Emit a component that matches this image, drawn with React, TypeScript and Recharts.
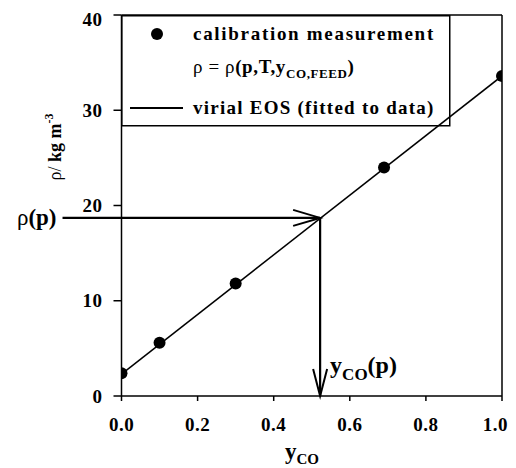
import { ComposedChart, Line, Scatter, XAxis, YAxis, ReferenceLine } from "recharts"

const yCo = [0, 0.1, 0.3, 0.69, 1.0]
const rho = [2.4, 5.6, 11.8, 24.0, 33.6]
const fitYCo = [0, 1]
const fitRho = [2.3, 33.6]
const xTicks = [0, 0.2, 0.4, 0.6, 0.8, 1.0]
const yTicks = [0, 10, 20, 30, 40]
// operating point
const pointYCo = 0.522
const pointRho = 18.7
const arrowStartYCo = -0.155

const measured = yCo.map((x, i) => ({ x, rho: rho[i] }))
const fitted = fitYCo.map((x, i) => ({ x, rho: fitRho[i] }))

const FONT = "Liberation Serif, DejaVu Serif, serif"

const Dot = (props: any) => <circle cx={props.cx} cy={props.cy} r={6} fill="#000" />

const HArrow = (props: any) => {
  const { x1, y1, x2, y2 } = props
  return (
    <g>
      <line x1={x1} y1={y1} x2={x2} y2={y2} stroke="#000" strokeWidth={2.2} />
      <polyline points={`${x2 - 27},${y2 - 8} ${x2},${y2} ${x2 - 27},${y2 + 8}`} fill="none" stroke="#000" strokeWidth={2} />
      <text x={x1 - 6} y={y1} dy="0.33em" textAnchor="end" fontFamily={FONT} fontSize={23} fill="#000">
        ρ<tspan fontWeight="bold">(p)</tspan>
      </text>
    </g>
  )
}

const VArrow = (props: any) => {
  const { x1, y1, x2, y2 } = props
  const bottom = Math.max(y1, y2)
  return (
    <g>
      <line x1={x1} y1={y1} x2={x2} y2={y2} stroke="#000" strokeWidth={2.2} />
      <polyline points={`${x1 - 7},${bottom - 27} ${x1},${bottom} ${x1 + 7},${bottom - 27}`} fill="none" stroke="#000" strokeWidth={2} />
      <text x={x1 + 10} y={bottom - 23} fontFamily={FONT} fontSize={24} fontWeight="bold" fill="#000">
        y<tspan fontSize={17} dy={7}>CO</tspan><tspan dy={-7}>(p)</tspan>
      </text>
    </g>
  )
}

function LegendBox() {
  return (
    <svg width={330} height={112} style={{ position: "absolute", left: 113, top: 7 }}>
      <rect x={0.75} y={0.75} width={328} height={110} fill="none" stroke="#000" strokeWidth={1.5} />
      <g fontFamily={FONT} fontSize={19} fill="#000">
        <circle cx={36} cy={19} r={6} fill="#000" />
        <text x={72} y={19} dy="0.33em" fontWeight="bold" letterSpacing={1.7}>calibration measurement</text>
        <text x={72} y={52} dy="0.33em" letterSpacing={0.6}>
          ρ = ρ<tspan fontWeight="bold">(p,T,y</tspan>
          <tspan fontWeight="bold" fontSize={13} dy={5}>CO,FEED</tspan>
          <tspan fontWeight="bold" dy={-5}>)</tspan>
        </text>
        <line x1={9} y1={93} x2={62} y2={93} stroke="#000" strokeWidth={2} />
        <text x={72} y={93} dy="0.33em" fontWeight="bold" letterSpacing={1.25}>virial EOS (fitted to data)</text>
      </g>
    </svg>
  )
}

export default function App() {
  const tickStyle = { fontFamily: FONT, fontSize: 19, fontWeight: "bold", fill: "#000", letterSpacing: 0.5 }
  return (
    <div style={{ position: "relative", width: 500, height: 460 }}>
      <ComposedChart width={500} height={460} margin={{ top: 7, right: 6, bottom: 0, left: 0 }}>
        <XAxis
          dataKey="x"
          type="number"
          domain={[0, 1]}
          ticks={xTicks}
          tickFormatter={(v) => v.toFixed(1)}
          tick={tickStyle}
          tickSize={5}
          tickMargin={17}
          stroke="#000"
          strokeWidth={1.5}
          height={72}
          allowDataOverflow
          label={() => (
            <text x={294} y={451} textAnchor="middle" fontFamily={FONT} fontSize={23} fontWeight="bold" fill="#000">
              y<tspan fontSize={15} dy={5}>CO</tspan>
            </text>
          )}
        />
        <YAxis
          dataKey="rho"
          type="number"
          domain={[0, 40]}
          ticks={yTicks}
          tick={tickStyle}
          tickSize={8}
          tickMargin={11}
          stroke="#000"
          strokeWidth={1.5}
          width={113.5}
          allowDataOverflow
          label={() => (
            <text transform="translate(53,139) rotate(-90)" textAnchor="middle" fontFamily={FONT} fontSize={18} fill="#000">
              ρ/ <tspan fontWeight="bold">kg m</tspan><tspan fontWeight="bold" fontSize={12} dy={-8}>-3</tspan>
            </text>
          )}
        />
        <ReferenceLine y={40} stroke="#000" strokeWidth={1.5} />
        <ReferenceLine x={1} stroke="#000" strokeWidth={1.5} />
        <Line data={fitted} dataKey="rho" stroke="#000" strokeWidth={1.5} dot={false} isAnimationActive={false} />
        <Scatter data={measured} dataKey="rho" fill="#000" shape={<Dot />} isAnimationActive={false} />
        <ReferenceLine
          segment={[{ x: arrowStartYCo, y: pointRho }, { x: pointYCo, y: pointRho }]}
          ifOverflow="visible"
          shape={<HArrow />}
        />
        <ReferenceLine
          segment={[{ x: pointYCo, y: pointRho }, { x: pointYCo, y: 0 }]}
          ifOverflow="visible"
          shape={<VArrow />}
        />
      </ComposedChart>
      <LegendBox />
    </div>
  )
}
